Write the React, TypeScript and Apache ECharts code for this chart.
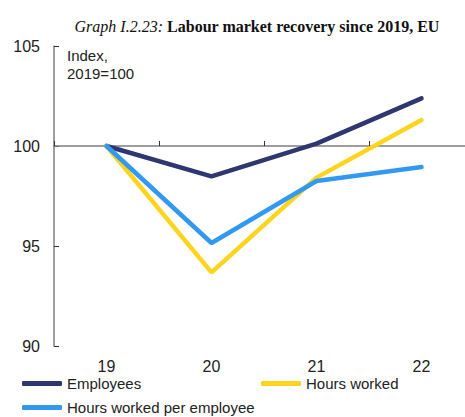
import React, { useEffect, useRef } from "react";
import * as echarts from "echarts";

const categories = ["19", "20", "21", "22"];
const employees = [100, 98.48, 100.12, 102.38];
const hoursWorked = [100, 93.68, 98.42, 101.3];
const hoursPerEmployee = [100, 95.15, 98.25, 98.95];
const seriesNames = ["Employees", "Hours worked", "Hours worked per employee"];
const colors = ["#2f3670", "#ffd41f", "#3399f0"];

export default function App() {
  const ref = useRef<HTMLDivElement>(null);
  useEffect(() => {
    if (!ref.current) return;
    const chart = echarts.init(ref.current, undefined, { renderer: "svg" });
    const font = "'Liberation Sans', Arial, sans-serif";
    const serif = "'Liberation Serif', 'Times New Roman', serif";
    const axisGray = "#7f7f7f";
    const mkLegend = (name: string, left: number, top: number) => ({
      data: [{ name, icon: "roundRect" }],
      left,
      top,
      itemWidth: 40,
      itemHeight: 5,
      itemGap: 4,
      textStyle: { fontFamily: font, fontSize: 15, color: "#222" },
      padding: 0,
    });
    const mkSeries = (name: string, data: number[], color: string) => ({
      name,
      type: "line",
      data,
      symbol: "none",
      xAxisIndex: 1,
      lineStyle: { width: 4.5, color, cap: "round" },
      itemStyle: { color },
      z: 5,
    });
    chart.setOption({
      animation: false,
      title: {
        text: "{it|Graph I.2.23:} {bd|Labour market recovery since 2019, EU}",
        left: 252,
        textAlign: "center",
        top: 13,
        textStyle: {
          fontWeight: "normal",
          fontFamily: serif,
          fontSize: 16,
          color: "#111",
          rich: {
            it: { fontFamily: serif, fontStyle: "italic", fontWeight: "normal", fontSize: 16, color: "#111" },
            bd: { fontFamily: serif, fontStyle: "normal", fontWeight: "bold", fontSize: 16, color: "#111" },
          },
        },
      },
      legend: [
        mkLegend(seriesNames[0], 22, 376),
        mkLegend(seriesNames[1], 261, 376),
        mkLegend(seriesNames[2], 22, 400),
      ],
      graphic: [
        {
          type: "text",
          left: 67,
          top: 46,
          style: {
            text: "Index,\n2019=100",
            font: `15px ${font}`,
            fill: "#222",
            lineHeight: 18,
          },
        },
      ],
      grid: { left: 54, top: 46, width: 420, height: 300, containLabel: false, outerBoundsMode: "none" },
      xAxis: [
        {
          type: "category",
          data: categories,
          position: "bottom",
          offset: -200,
          boundaryGap: true,
          axisLine: { show: true, lineStyle: { color: axisGray, width: 1.5 } },
          axisTick: { show: true, inside: true, length: 5, lineStyle: { color: "#333", width: 1 } },
          axisLabel: { show: false },
          splitLine: { show: false },
          z: 1,
        },
        {
          type: "category",
          data: categories,
          position: "bottom",
          boundaryGap: true,
          axisLine: { show: false },
          axisTick: { show: false },
          axisLabel: { fontFamily: font, fontSize: 16, color: "#222", margin: 12 },
          splitLine: { show: false },
        },
      ],
      yAxis: {
        type: "value",
        min: 90,
        max: 105,
        interval: 5,
        axisLine: { show: true, lineStyle: { color: axisGray, width: 1.5 } },
        axisTick: { show: true, inside: true, length: 5, lineStyle: { color: "#333", width: 1 } },
        axisLabel: { fontFamily: font, fontSize: 16, color: "#222", margin: 14 },
        splitLine: { show: false },
      },
      series: [
        mkSeries(seriesNames[0], employees, colors[0]),
        mkSeries(seriesNames[1], hoursWorked, colors[1]),
        mkSeries(seriesNames[2], hoursPerEmployee, colors[2]),
      ],
    });
    return () => chart.dispose();
  }, []);
  return (
    <div
      ref={ref}
      style={{ position: "fixed", left: 0, top: 0, width: 465, height: 417, background: "#fff" }}
    />
  );
}
